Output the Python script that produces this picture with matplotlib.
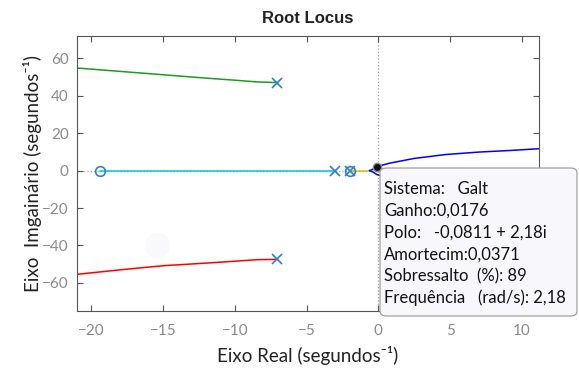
import matplotlib
matplotlib.use("Agg")
import matplotlib.pyplot as plt
from matplotlib.patches import FancyBboxPatch

# Root locus branches (real, imaginary parts)
upper_x = [-21.0, -18.0, -15.0, -12.0, -10.0, -8.5, -7.05]
upper_y = [54.8, 53.0, 51.2, 49.4, 48.3, 47.4, 47.0]
lower_x = [-21.0, -18.0, -15.0, -12.0, -10.0, -8.5, -7.05]
lower_y = [-55.4, -53.0, -50.8, -49.4, -48.4, -47.6, -47.4]
real_branch_x = [-19.43, -3.04]
real_branch_y = [0.0, 0.0]
origin_branch_x = [-2.0, -0.6]
origin_branch_y = [0.0, 0.0]
slow_x = [-0.6, -0.35, -0.08, 0.8, 2.5, 4.7, 7.0, 9.3, 11.2]
slow_y = [0.0, 0.9, 2.18, 4.0, 6.5, 8.6, 9.9, 10.8, 11.7]

poles_re = [-7.05, -7.05, -3.04, -2.0]
poles_im = [47.0, -47.4, 0.0, 0.0]
zeros_re = [-19.43, -2.0]
zeros_im = [0.0, 0.0]

# selected point on the locus
sistema = "Galt"
ganho = 0.0176
polo = complex(-0.0811, 2.18)
amortecim = 0.0371
sobressalto = 89
frequencia = 2.18

BLUE_MK = "#2f7fd0"
TICK_GRAY = "#8a8a8a"
FONT = ["Lato", "DejaVu Sans"]


def br(v, fmt):
    return format(v, fmt).replace(".", ",")


fig = plt.figure(figsize=(5.79, 3.77), dpi=100)
ax = fig.add_axes([0.133, 0.175, 0.798, 0.73])

ax.axvline(0, color="#a0a0a0", linestyle=":", linewidth=0.9, zorder=0)
ax.axhline(0, color="#a0a0a0", linestyle=":", linewidth=0.9, zorder=0)

ax.plot(upper_x, upper_y, color="#1e9a1e", linewidth=1.1)
ax.plot(lower_x, lower_y, color="#ff0000", linewidth=1.1)
ax.plot(real_branch_x, real_branch_y, color="#00c8e0", linewidth=1.1)
ax.plot(origin_branch_x, origin_branch_y, color="#c8c800", linewidth=1.1)
ax.plot(slow_x, slow_y, color="#0000ff", linewidth=1.1)
ax.plot(slow_x, [-v for v in slow_y], color="#0000ff", linewidth=1.1)

ax.plot(poles_re, poles_im, linestyle="none", marker="x", color=BLUE_MK,
        markersize=7, markeredgewidth=1.2, zorder=4)
ax.plot(zeros_re, zeros_im, linestyle="none", marker="o", markerfacecolor="none",
        markeredgecolor=BLUE_MK, markersize=7, markeredgewidth=1.2, zorder=4)

# faint cursor hint and the data cursor
ax.plot([-15.4], [-40.0], marker="o", markersize=18, color="#f9f9fc",
        markeredgecolor="none", zorder=0)
ax.plot([polo.real], [polo.imag], marker="o", markersize=6, color="#111111",
        markeredgecolor="#888888", markeredgewidth=1.0, zorder=6)

ax.set_xlim(-21, 11.2)
ax.set_ylim(-75, 72)
ax.set_xticks([-20, -15, -10, -5, 0, 5, 10])
ax.set_yticks([-60, -40, -20, 0, 20, 40, 60])
ax.tick_params(direction="in", top=True, right=True, length=4, width=0.8,
               colors="#555555", labelcolor=TICK_GRAY, labelsize=11)
ax.tick_params(axis="x", pad=9)
ax.tick_params(axis="y", pad=6)
for lab in ax.get_xticklabels() + ax.get_yticklabels():
    lab.set_family(FONT)
for sp in ax.spines.values():
    sp.set_color("#555555")
    sp.set_linewidth(0.8)

ax.set_title("Root Locus", fontsize=12, fontweight="bold", family="Liberation Sans",
             color="#222222", pad=9)
ax.set_xlabel("Eixo Real (segundos\u207b\u00b9)", fontsize=13.5, family=FONT,
              color="#222222", labelpad=6)
ax.set_ylabel("Eixo  Imgainário (segundos\u207b\u00b9)", fontsize=13.5, family=FONT,
              color="#222222", labelpad=0)

# data tip box
tip = FancyBboxPatch((380 / 579, 1 - 316 / 377), 197 / 579, 148 / 377,
                     boxstyle="round,pad=0,rounding_size=0.012",
                     transform=fig.transFigure, facecolor="#f8f8fc",
                     edgecolor="#a0a0a0", linewidth=0.9, zorder=10)
fig.add_artist(tip)

lines = [
    f"Sistema:   {sistema}",
    f"Ganho:{br(ganho, '.4f')}",
    f"Polo:   {br(polo.real, '.4f')} + {br(polo.imag, '.2f')}i",
    f"Amortecim:{br(amortecim, '.4f')}",
    f"Sobressalto  (%): {sobressalto}",
    f"Frequência   (rad/s): {br(frequencia, '.2f')}",
]
for i, line in enumerate(lines):
    fig.text(384 / 579, 1 - (189 + 21.8 * i) / 377, line, fontsize=12, family=FONT,
             color="#111111", va="center", ha="left", zorder=11)

fig.savefig("out.png", dpi=100)
